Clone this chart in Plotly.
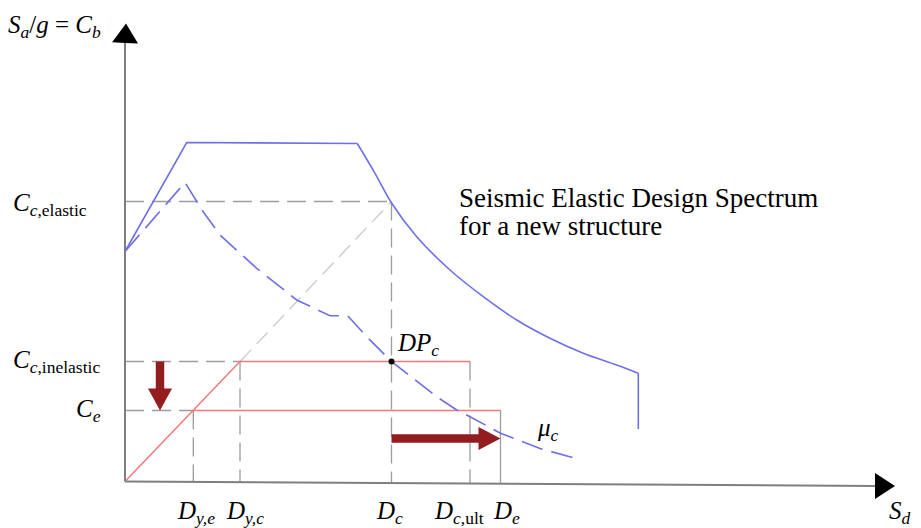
import plotly.graph_objects as go

# ---------------- data (schematic units: Sd horizontal, Sa/g vertical) ----------------
# Elastic design spectrum (solid blue)
elastic_rise_sd = [0.0, 0.617, 2.323]
elastic_rise_sa = [2.30, 3.39, 3.38]
elastic_decay_sd = [2.323, 2.50, 2.667, 2.917, 3.25, 3.583, 3.917, 4.25, 4.583, 4.917, 5.133]
elastic_decay_sa = [3.38, 3.082, 2.782, 2.448, 2.115, 1.848, 1.615, 1.432, 1.282, 1.165, 1.082]
elastic_cut_sd = [5.133, 5.133]
elastic_cut_sa = [1.082, 0.525]

# Inelastic spectrum for ductility mu_c (dashed blue)
inelastic_sd = [0.0, 0.60, 0.78, 0.95, 1.317, 1.717, 2.05, 2.227, 2.433, 2.667, 3.117, 3.317, 3.45, 3.75, 4.15, 4.53]
inelastic_sa = [2.30, 2.99, 2.70, 2.465, 2.132, 1.815, 1.658, 1.658, 1.432, 1.198, 0.848, 0.715, 0.648, 0.485, 0.33, 0.225]

# Characteristic displacements and strengths
D_ye, D_yc, D_c, D_cult, D_e = 0.683, 1.15, 2.665, 3.45, 3.755
C_el, C_inel, C_e = 2.80, 1.20, 0.71

# Axis extents (schematic)
x_axis_end, x_axis_end_sa = 7.50, -0.045
y_axis_end = 4.385

# Arrow positions
down_arrow_sd = 0.35
right_arrow_sa = 0.43

# ---------------- styles ----------------
BLUE = "#6f6fe6"
RED = "#f07a7a"
DARKRED = "#931c1f"
GRAY = "#9c9c9c"
LIGHTGRAY = "#c9c9c9"
AXIS = "#7f7f7f"
FONT = "Liberation Serif"

fig = go.Figure()


def line(xs, ys, color, width=1.5, dash=None, shape="linear"):
    fig.add_trace(go.Scatter(x=xs, y=ys, mode="lines", hoverinfo="skip",
                             line=dict(color=color, width=width, dash=dash, shape=shape),
                             showlegend=False))


def polygon(xs, ys, color):
    fig.add_trace(go.Scatter(x=xs, y=ys, mode="lines", fill="toself", fillcolor=color,
                             line=dict(color=color, width=0), hoverinfo="skip", showlegend=False))


def arrow_polygon(x0, y0, x1, y1, shaft_w, head_w, head_l):
    dx, dy = x1 - x0, y1 - y0
    L = (dx ** 2 + dy ** 2) ** 0.5
    ux, uy = dx / L, dy / L
    px, py = -uy, ux
    bx, by = x1 - ux * head_l, y1 - uy * head_l
    s, h = shaft_w / 2, head_w / 2
    pts = [(x0 + px * s, y0 + py * s), (bx + px * s, by + py * s), (bx + px * h, by + py * h),
           (x1, y1), (bx - px * h, by - py * h), (bx - px * s, by - py * s),
           (x0 - px * s, y0 - py * s), (x0 + px * s, y0 + py * s)]
    return [p[0] for p in pts], [p[1] for p in pts]


def axis_sa(x):
    return x_axis_end_sa * x / x_axis_end


# gray dashed guide lines
DASH = "19px,8px"
line([0, D_c], [C_el, C_el], GRAY, 1.3, DASH)
line([0, D_yc], [C_inel, C_inel], GRAY, 1.3, DASH)
line([0, D_ye], [C_e, C_e], GRAY, 1.3, DASH)
line([D_ye, D_ye], [C_e, axis_sa(D_ye)], GRAY, 1.3, DASH)
line([D_yc, D_yc], [C_inel, axis_sa(D_yc)], GRAY, 1.3, DASH)
line([D_c, D_c], [C_el, axis_sa(D_c)], GRAY, 1.3, DASH)
line([D_cult, D_cult], [C_inel, axis_sa(D_cult)], GRAY, 1.3, DASH)
line([D_e, D_e], [C_e, axis_sa(D_e)], GRAY, 1.3)
line([D_yc, D_c], [C_inel, C_el], LIGHTGRAY, 1.3, "16px,8px")

# capacity curves (red)
line([0, D_yc, D_cult], [0, C_inel, C_inel], RED, 1.5)
line([D_ye, D_e], [C_e, C_e], RED, 1.5)

# spectra (blue)
line(elastic_rise_sd, elastic_rise_sa, BLUE, 1.6)
line(elastic_decay_sd, elastic_decay_sa, BLUE, 1.6, shape="spline")
line(elastic_cut_sd, elastic_cut_sa, BLUE, 1.6)
line(inelastic_sd, inelastic_sa, BLUE, 1.6, "22px,9px")

# axes
line([0, 0], [0, y_axis_end], AXIS, 2)
line([0, x_axis_end], [0, x_axis_end_sa], AXIS, 2)
ax_x, ax_y = arrow_polygon(0, y_axis_end - 0.01, 0.01, y_axis_end + 0.195, 0.0, 0.26, 0.195)
polygon(ax_x, ax_y, "black")
ax_x, ax_y = arrow_polygon(x_axis_end - 0.01, x_axis_end_sa, x_axis_end + 0.20, x_axis_end_sa, 0.0, 0.26, 0.20)
polygon(ax_x, ax_y, "black")

# dark red arrows
ax_x, ax_y = arrow_polygon(down_arrow_sd, C_inel, down_arrow_sd, C_e, 0.085, 0.24, 0.22)
polygon(ax_x, ax_y, DARKRED)
ax_x, ax_y = arrow_polygon(D_c, right_arrow_sa, D_e, right_arrow_sa, 0.085, 0.23, 0.22)
polygon(ax_x, ax_y, DARKRED)

# performance point
fig.add_trace(go.Scatter(x=[D_c], y=[C_inel], mode="markers", hoverinfo="skip",
                         marker=dict(color="black", size=6), showlegend=False))

# ---------------- labels ----------------
def label(x, y, text, size=25, xanchor="center", yanchor="middle"):
    fig.add_annotation(x=x, y=y, xref="x", yref="y", text=text, showarrow=False,
                       xanchor=xanchor, yanchor=yanchor, borderpad=0,
                       font=dict(family=FONT, size=size, color="black"))

BOTTOM = -0.145
label(-1.18, 4.55, "<i>S</i><sub><i>a</i></sub>/<i>g</i> = <i>C</i><sub><i>b</i></sub>", xanchor="left")
label(-1.13, C_el - 0.03, "<i>C</i><sub><i>c</i>,elastic</sub>", xanchor="left")
label(-1.13, C_inel - 0.0, "<i>C</i><sub><i>c</i>,inelastic</sub>", xanchor="left")
label(-0.23, C_e, "<i>C</i><sub><i>e</i></sub>", xanchor="right")
label(D_ye + 0.03, BOTTOM, "<i>D</i><sub><i>y,e</i></sub>", yanchor="top")
label(D_yc + 0.05, BOTTOM, "<i>D</i><sub><i>y,c</i></sub>", yanchor="top")
label(D_c - 0.02, BOTTOM, "<i>D</i><sub><i>c</i></sub>", yanchor="top")
label(D_cult - 0.11, BOTTOM, "<i>D</i><sub><i>c</i>,ult</sub>", yanchor="top")
label(D_e + 0.06, BOTTOM, "<i>D</i><sub><i>e</i></sub>", yanchor="top")
label(D_c + 0.04, C_inel + 0.17, "<i>DP</i><sub><i>c</i></sub>", xanchor="left")
label(4.11, 0.52, "<i>μ</i><sub><i>c</i></sub>", xanchor="left")
label(7.63, BOTTOM, "<i>S</i><sub><i>d</i></sub>", xanchor="left", yanchor="top")
label(3.33, 2.84, "Seismic Elastic Design Spectrum", size=27, xanchor="left")
label(3.33, 2.555, "for a new structure", size=27, xanchor="left")

fig.update_layout(
    width=921, height=528, autosize=False,
    margin=dict(l=0, r=0, t=0, b=0),
    paper_bgcolor="white", plot_bgcolor="white",
    xaxis=dict(range=[-1.25, 7.96], visible=False, fixedrange=True),
    yaxis=dict(range=[-0.465, 4.815], visible=False, fixedrange=True),
    showlegend=False,
)

fig.write_html("out.html")
